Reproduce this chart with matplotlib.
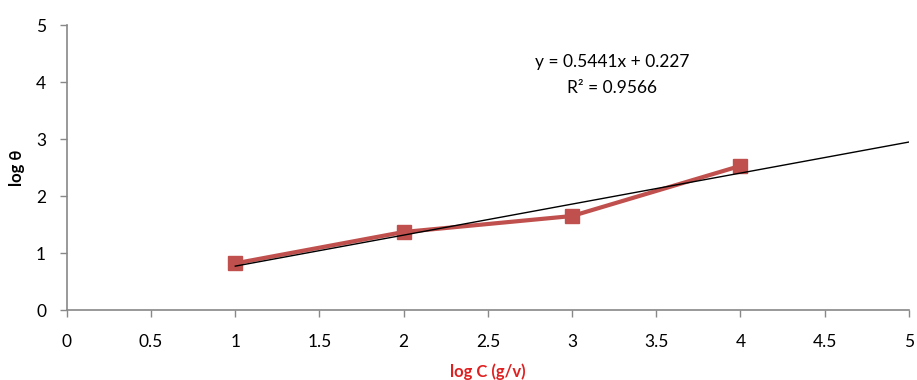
import matplotlib.pyplot as plt

log_c = [1, 2, 3, 4]
log_theta = [0.82, 1.37, 1.65, 2.53]
slope = 0.5441
intercept = 0.227
trend_x = [1, 5]
x_ticks = [0, 0.5, 1, 1.5, 2, 2.5, 3, 3.5, 4, 4.5, 5]
x_labels = ["0", "0.5", "1", "1.5", "2", "2.5", "3", "3.5", "4", "4.5", "5"]
y_ticks = [0, 1, 2, 3, 4, 5]

plt.rcParams['font.family'] = ['Lato', 'DejaVu Sans']

fig = plt.figure(figsize=(9.17, 3.8), dpi=100)
ax = fig.add_axes([0.073, 0.184, 0.918, 0.75])

trend_y = [slope * x + intercept for x in trend_x]
ax.plot(trend_x, trend_y, color='black', linewidth=1.0, zorder=3)
ax.plot(log_c, log_theta, color='#C0504D', linewidth=3, marker='s',
        markersize=10, zorder=2)

ax.set_xlim(0, 5)
ax.set_ylim(0, 5)
ax.set_xticks(x_ticks)
ax.set_xticklabels(x_labels)
ax.set_yticks(y_ticks)
ax.tick_params(labelsize=12.5, color='#888888', length=5, width=1)
ax.tick_params(axis='x', pad=12)
ax.tick_params(axis='y', pad=10)

for side in ['top', 'right']:
    ax.spines[side].set_visible(False)
for side in ['left', 'bottom']:
    ax.spines[side].set_color('#888888')
    ax.spines[side].set_linewidth(1.2)

ax.set_xlabel('log C (g/v)', color='#E02020', fontsize=12, fontweight='bold', labelpad=10)
ax.set_ylabel('log θ', fontsize=12, fontweight='bold', labelpad=8)

ax.text(3.24, 4.35, 'y = 0.5441x + 0.227', ha='center', va='center', fontsize=12.5)
ax.text(3.24, 3.89, 'R² = 0.9566', ha='center', va='center', fontsize=12.5)

fig.savefig('out.png', dpi=100)
